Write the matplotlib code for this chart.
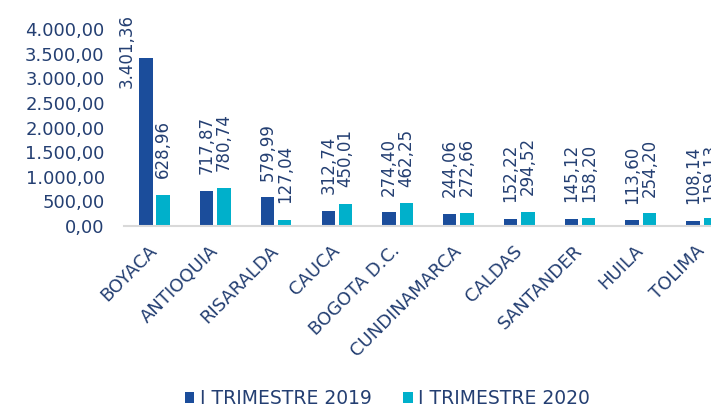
import numpy as np
import matplotlib.pyplot as plt

# data
departamentos = ['BOYACA', 'ANTIOQUIA', 'RISARALDA', 'CAUCA', 'BOGOTA D.C.',
                 'CUNDINAMARCA', 'CALDAS', 'SANTANDER', 'HUILA', 'TOLIMA']
trim_2019 = [3401.36, 717.87, 579.99, 312.74, 274.40, 244.06, 152.22, 145.12, 113.60, 108.14]
trim_2020 = [628.96, 780.74, 127.04, 450.01, 462.25, 272.66, 294.52, 158.20, 254.20, 159.13]
series_names = ['I TRIMESTRE 2019', 'I TRIMESTRE 2020']

c_2019 = '#1B4D9B'
c_2020 = '#00B0CB'
txt = '#243F72'


def es_fmt(v):
    # 1,234.56 -> 1.234,56
    s = '{:,.2f}'.format(v)
    return s.replace(',', 'X').replace('.', ',').replace('X', '.')


fig = plt.figure(figsize=(7.11, 4.09), dpi=100)
# plot area runs past the right edge like in the original picture
ax = fig.add_axes([0.1745, 0.4474, 0.855, 0.4817])

x = np.arange(len(departamentos))
w = 0.22
off = 0.142
b1 = ax.bar(x - off, trim_2019, w, color=c_2019, label=series_names[0])
b2 = ax.bar(x + off, trim_2020, w, color=c_2020, label=series_names[1])

# value labels, the tall one is pushed beside its bar
shift = {(0, 0): (-14, -21)}
for s, (bars, vals) in enumerate([(b1, trim_2019), (b2, trim_2020)]):
    for i, (rect, v) in enumerate(zip(bars, vals)):
        dx, dy = shift.get((s, i), (0, 12))
        ax.annotate(es_fmt(v), (rect.get_x() + rect.get_width() / 2, v),
                    xytext=(dx, dy), textcoords='offset points',
                    rotation=90, ha='center', va='bottom',
                    fontsize=12, color=txt, annotation_clip=False)

ax.set_xlim(-0.5, len(departamentos) - 0.5)
ax.set_ylim(0, 4000)
ax.set_yticks(np.arange(0, 4001, 500))
ax.set_yticklabels([es_fmt(t) for t in np.arange(0, 4001, 500)])
ax.tick_params(axis='y', length=0, pad=14, labelsize=13, labelcolor=txt)

ax.set_xticks(x)
ax.set_xticklabels(departamentos, rotation=45, ha='right', va='center',
                   rotation_mode='anchor', fontsize=13, color=txt)
ax.tick_params(axis='x', length=0, pad=16)

for sp in ['top', 'right', 'left']:
    ax.spines[sp].set_visible(False)
ax.spines['bottom'].set_color('#D9D9D9')
ax.spines['bottom'].set_linewidth(1.5)

fig.legend(loc='center', bbox_to_anchor=(0.545, 0.026), ncol=2, frameon=False,
           fontsize=13.5, labelcolor=txt, handlelength=0.5, handleheight=0.5,
           handletextpad=0.3, columnspacing=1.7, borderpad=0.2)

fig.savefig('out.png', dpi=100)
